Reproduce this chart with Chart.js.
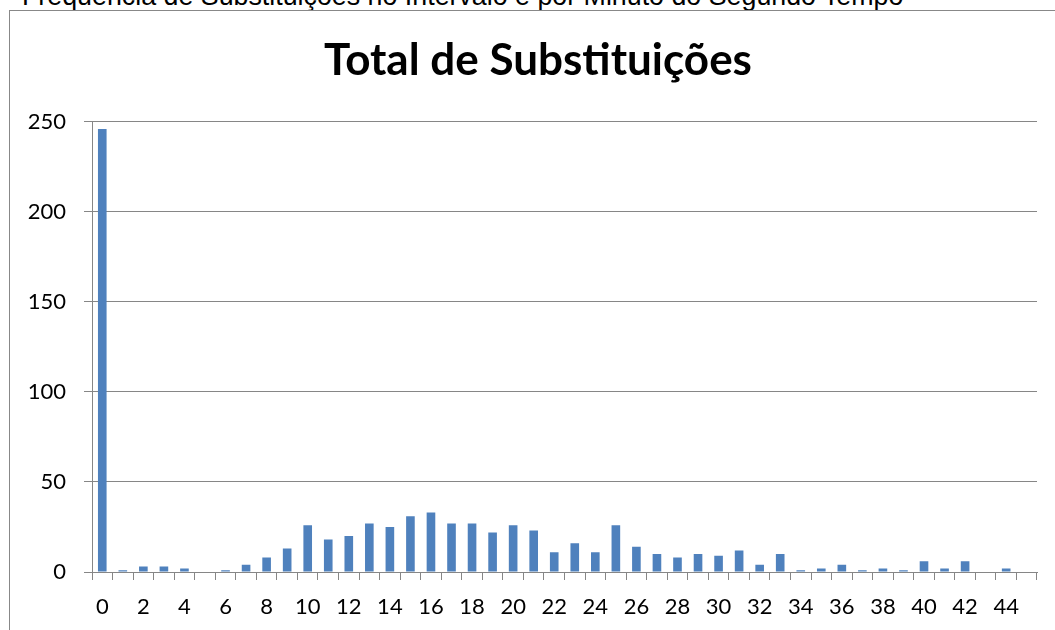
<!DOCTYPE html>
<html>
<head>
<meta charset="utf-8">
<script src="https://cdn.jsdelivr.net/npm/chart.js@4/dist/chart.umd.min.js"></script>
<style>
  html, body { margin: 0; padding: 0; background: #fff; overflow: hidden; }
  #wrap { position: relative; width: 1055px; height: 630px; }
  #caption { position: absolute; left: 22px; top: -17px; font: 26.8px "Liberation Sans", Arial, sans-serif; line-height: 27px; color: #000; white-space: nowrap; }
  #frame { position: absolute; left: 9px; top: 10px; width: 1100px; height: 700px; border: 1.5px solid #888; box-sizing: border-box; }
  canvas { position: absolute; left: 0; top: 0; }
</style>
</head>
<body>
<div id="wrap">
  <div id="caption">Frequência de Substituições no Intervalo e por Minuto do Segundo Tempo</div>
  <div id="frame"></div>
  <canvas id="c" width="1055" height="630"></canvas>
</div>
<script>
const chartTitle = "Total de Substituições";
const minutes = Array.from({length: 46}, (_, i) => String(i));
const substitutions = [246, 1, 3, 3, 2, 0, 1, 4, 8, 13, 26, 18, 20, 27, 25, 31, 33, 27, 27, 22, 26, 23, 11, 16, 11, 26, 14, 10, 8, 10, 9, 12, 4, 10, 1, 2, 4, 1, 2, 1, 6, 2, 6, 0, 2, 0];
const yTicks = [0, 50, 100, 150, 200, 250];

const axisColor = '#868686';
const tickFont = { family: 'Lato', size: 22 };

// shift the title's box so it is centred on the frame as in the reference
const titleShift = {
  id: 'titleShift',
  afterLayout(chart) { if (chart.titleBlock) chart.titleBlock.left += 39; }
};

new Chart(document.getElementById('c'), {
  type: 'bar',
  plugins: [titleShift],
  data: {
    labels: minutes,
    datasets: [{
      data: substitutions,
      backgroundColor: '#4f81bd',
      borderWidth: 0,
      barPercentage: 0.42,
      categoryPercentage: 1.0
    }]
  },
  options: {
    responsive: false,
    animation: false,
    devicePixelRatio: 1,
    layout: { padding: { left: 0, right: 18, top: 0, bottom: 0 } },
    plugins: {
      legend: { display: false },
      tooltip: { enabled: false },
      title: {
        display: true,
        text: chartTitle,
        color: '#000',
        font: { family: 'Lato', size: 44, weight: 'bold', lineHeight: 1.2 },
        padding: { top: 34, bottom: 35 }
      }
    },
    scales: {
      x: {
        offset: true,
        grid: { display: true, offset: true, drawOnChartArea: false, drawTicks: true, tickLength: 8, color: axisColor, lineWidth: 1 },
        border: { display: true, color: axisColor, width: 1 },
        ticks: {
          autoSkip: false,
          maxRotation: 0,
          color: '#000',
          font: tickFont,
          padding: 14,
          callback: function(v, i) { return i % 2 === 0 ? minutes[i] : ''; }
        },
        afterFit: s => { s.height = 58; }
      },
      y: {
        min: yTicks[0],
        max: yTicks[yTicks.length - 1],
        grid: { color: axisColor, lineWidth: 1, drawTicks: true, tickLength: 8 },
        border: { display: true, color: axisColor, width: 1 },
        afterBuildTicks: s => { s.ticks = yTicks.map(v => ({ value: v })); },
        ticks: { color: '#000', font: tickFont, padding: 18 },
        afterFit: s => { s.width = 92; }
      }
    }
  }
});
</script>
</body>
</html>
